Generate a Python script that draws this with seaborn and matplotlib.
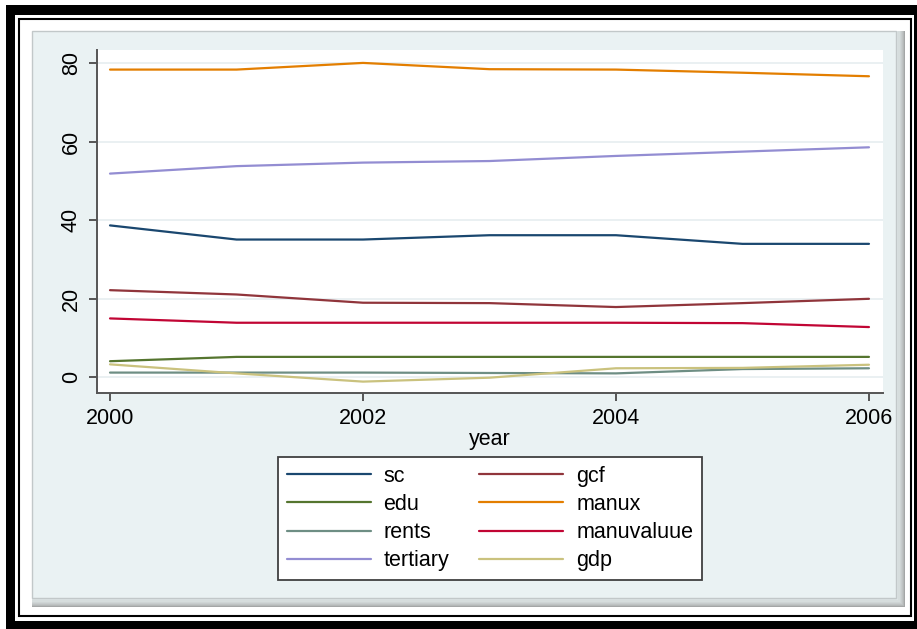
import pandas as pd
import seaborn as sns
import matplotlib.pyplot as plt
from matplotlib.patches import Rectangle
from matplotlib.lines import Line2D
from matplotlib.colors import to_rgb

# data
years = [2000, 2001, 2002, 2003, 2004, 2005, 2006]
sc = [38.7, 35.1, 35.1, 36.2, 36.2, 34.0, 34.0]
gcf = [22.2, 21.1, 19.0, 18.9, 17.9, 18.9, 20.0]
edu = [4.1, 5.2, 5.2, 5.2, 5.2, 5.2, 5.2]
manux = [78.4, 78.4, 80.1, 78.5, 78.4, 77.6, 76.7]
rents = [1.2, 1.2, 1.2, 1.1, 1.0, 2.1, 2.3]
manuvaluue = [15.0, 13.9, 13.9, 13.9, 13.9, 13.8, 12.8]
tertiary = [51.9, 53.8, 54.7, 55.1, 56.4, 57.5, 58.6]
gdp = [3.3, 1.0, -1.1, -0.1, 2.3, 2.4, 3.2]

series_names = ['sc', 'gcf', 'edu', 'manux', 'rents', 'manuvaluue', 'tertiary', 'gdp']
series_values = [sc, gcf, edu, manux, rents, manuvaluue, tertiary, gdp]
# Stata s2color palette
colors = ['#1a476f', '#90353b', '#55752f', '#e37e00',
          '#6e8e84', '#c10534', '#938dd2', '#cac27e']

x_ticks = [2000, 2002, 2004, 2006]
y_ticks = [0, 20, 40, 60, 80]

rows = []
for name, vals in zip(series_names, series_values):
    for yr, v in zip(years, vals):
        rows.append({'year': yr, 'value': v, 'variable': name})
df = pd.DataFrame(rows)

sns.set_style('white')
plt.rcParams['font.family'] = ['Liberation Sans', 'DejaVu Sans']
plt.rcParams['text.color'] = 'black'
plt.rcParams['axes.labelcolor'] = 'black'

W, H = 917, 629
fig = plt.figure(figsize=(W / 100, H / 100), dpi=100)
fig.patch.set_facecolor('white')


def box(x0, y0, x1, y1, z, **kw):
    # pixel box (top-left origin) -> figure rectangle, kept under the axes
    r = Rectangle((x0 / W, 1 - y1 / H), (x1 - x0) / W, (y1 - y0) / H,
                  transform=fig.transFigure, zorder=z - 10, **kw)
    fig.patches.append(r)


# black frame around the picture
box(6, 5, 917, 629, 0, facecolor='black', edgecolor='none')
box(15, 15, 914, 621, 0.1, facecolor='white', edgecolor='none')
box(18.5, 18.5, 910.5, 616, 0.2, facecolor='none', edgecolor='black', linewidth=1.5)

# graph region with soft shadow
panel = to_rgb('#eaf2f3')
shade = to_rgb('#a4a6a6')
steps = 8
for k in range(steps + 1):
    t = (k / steps) ** 0.7
    c = tuple(shade[i] * (1 - t) + panel[i] * t for i in range(3))
    box(32, 31, 905 - k * 1.1, 607 - k * 1.1, 0.3 + k * 0.01, facecolor=c, edgecolor='none')
box(32, 31, 905 - steps * 1.1, 607 - steps * 1.1, 0.5, facecolor='none',
    edgecolor='#c2c8c9', linewidth=1.0)

ax = fig.add_axes([97 / W, 1 - 393 / H, (883 - 97) / W, (393 - 50) / H])
ax.set_zorder(2)
ax.set_facecolor('white')

sns.lineplot(data=df, x='year', y='value', hue='variable', hue_order=series_names,
             palette=colors, linewidth=1.6, legend=False, ax=ax)

ax.set_xlim(1999.897, 2006.111)
ax.set_ylim(-4.0, 83.39)
ax.set_xticks(x_ticks)
ax.set_yticks(y_ticks)
ax.set_xticklabels([str(t) for t in x_ticks], fontsize=15.5)
ax.set_yticklabels([str(t) for t in y_ticks], fontsize=15.5, rotation=90, va='center')
ax.set_xlabel('year', fontsize=15.5, labelpad=0)
ax.set_ylabel('')
ax.grid(axis='y', color='#e6eef0', linewidth=1.2)
ax.set_axisbelow(True)

for side in ['top', 'right']:
    ax.spines[side].set_visible(False)
for side in ['left', 'bottom']:
    ax.spines[side].set_color('#555555')
    ax.spines[side].set_linewidth(1.4)
ax.tick_params(axis='both', direction='out', length=6, width=1.4, color='#555555',
               pad=5, labelcolor='black', left=True, bottom=True)

# legend, filled row by row like Stata
order = [0, 2, 4, 6, 1, 3, 5, 7]
handles = [Line2D([0], [0], color=colors[i], linewidth=1.6) for i in order]
labels = [series_names[i] for i in order]
leg = fig.legend(handles, labels, ncol=2, loc='center',
                 bbox_to_anchor=(490 / W, 1 - 518.5 / H),
                 fontsize=15.5, frameon=True, fancybox=False, shadow=False,
                 handlelength=3.9, handletextpad=0.6, columnspacing=1.4,
                 labelspacing=0.34, borderpad=0.4)
leg.set_zorder(3)
leg.get_frame().set_edgecolor('#404040')
leg.get_frame().set_linewidth(1.3)
leg.get_frame().set_facecolor('white')
leg.get_frame().set_alpha(1)

fig.savefig('out.png', dpi=100, facecolor=fig.get_facecolor())
